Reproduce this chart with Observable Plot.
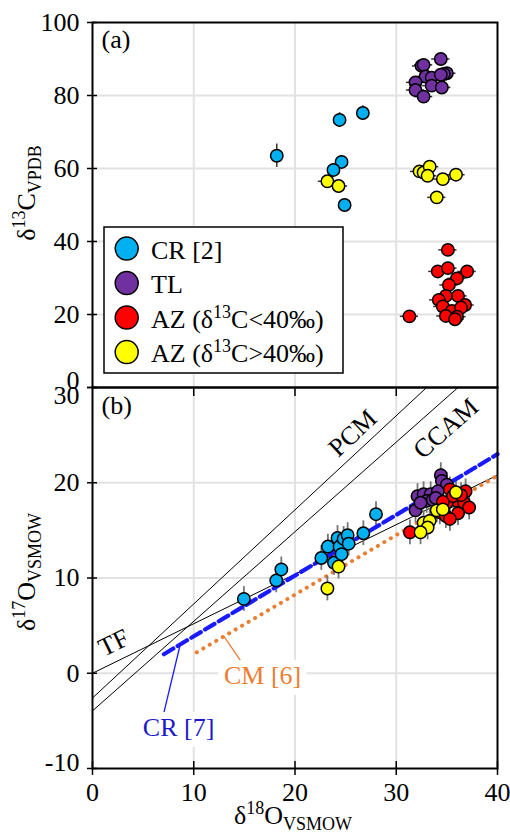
<!DOCTYPE html>
<html><head><meta charset="utf-8">
<script src="https://cdn.jsdelivr.net/npm/d3@7"></script>
<script src="https://cdn.jsdelivr.net/npm/@observablehq/plot@0.6"></script>
<style>
html,body{margin:0;padding:0;background:#fff;}
#wrap{position:relative;width:510px;height:836px;}
#wrap svg{position:absolute;left:0;overflow:visible;background:transparent !important;}
</style></head><body><div id="wrap"></div>
<script>
// ---------- axes ----------
const xDomain = [0, 40];
const xTicks = [0, 10, 20, 30, 40];
const aYDomain = [0, 100];
const aYTicks = [0, 20, 40, 60, 80, 100];
const bYDomain = [-10, 30];
const bYTicks = [-10, 0, 10, 20, 30];

// ---------- series ----------
const seriesColors = ["#00b0f0", "#7030a0", "#ff0000", "#ffff00"];
const legendParts = [
  [["CR [2]", "n"]],
  [["TL", "n"]],
  [["AZ (δ", "n"], ["13", "sup"], ["C<40‰)", "n"]],
  [["AZ (δ", "n"], ["13", "sup"], ["C>40‰)", "n"]]
];

// panel (a): δ18O vs δ13C
const aCR_x = [18.2, 24.4, 26.7, 24.6, 23.8, 24.9];
const aCR_y = [63.5, 73.3, 75.2, 61.8, 59.6, 50.0];
const aCR_err = [3.2, 2.0, 2.0, 1.7, 1.7, 1.7];
const aTL_x = [32.5, 32.7, 34.4, 35.0, 34.7, 32.9, 33.5, 31.9, 33.5, 34.5, 31.9, 32.7, 34.4];
const aTL_y = [88.1, 88.4, 90.0, 86.1, 85.9, 85.2, 84.9, 83.6, 82.7, 82.2, 81.5, 79.7, 85.7];
const aTL_err = 0.9;
const aAZlo_x = [35.1, 34.1, 35.1, 37.0, 36.0, 35.2, 34.9, 34.2, 36.1, 36.8, 34.6, 35.5, 36.4, 34.9, 36.0, 35.8, 31.3];
const aAZlo_y = [37.7, 31.8, 32.7, 31.8, 29.9, 28.1, 25.1, 24.0, 25.1, 22.6, 22.2, 21.0, 21.9, 19.6, 19.4, 18.7, 19.5];
const aAZlo_err = 0.9;
const aAZhi_x = [23.2, 24.3, 32.3, 32.7, 33.3, 33.1, 34.6, 35.9, 34.0];
const aAZhi_y = [56.5, 55.2, 59.2, 58.9, 60.5, 58.0, 57.1, 58.3, 52.1];
const aAZhi_err = 0.9;

// panel (b): δ18O vs δ17O
const bCR_x = [14.95, 18.15, 18.65, 22.6, 23.25, 23.85, 24.2, 24.4, 24.6, 24.8, 25.2, 25.3, 26.75, 28.0];
const bCR_y = [7.8, 9.75, 10.9, 12.1, 13.3, 11.6, 14.2, 13.3, 12.5, 14.1, 14.5, 13.6, 14.7, 16.7];
const bTL_x = [34.4, 34.5, 35.0, 32.1, 32.7, 33.4, 33.0, 33.6, 31.9, 34.1, 33.9, 32.4];
const bTL_y = [20.8, 20.2, 19.8, 18.6, 18.8, 18.8, 18.1, 18.2, 17.1, 19.1, 18.4, 17.9];
const bAZlo_x = [31.35, 35.3, 36.85, 36.0, 36.7, 35.0, 37.2, 34.3, 34.9, 36.1, 35.3, 35.6, 36.4, 34.6];
const bAZlo_y = [14.8, 19.3, 19.1, 18.1, 17.9, 17.9, 17.4, 16.9, 16.5, 16.8, 16.2, 18.6, 18.7, 18.0];
const bAZhi_x = [23.2, 24.3, 35.9, 34.0, 34.6, 32.7, 33.3, 33.1, 32.4];
const bAZhi_y = [8.9, 11.2, 19.0, 17.1, 17.2, 15.8, 16.0, 15.3, 14.8];
const bErr = 1.3;

// reference lines in panel (b): endpoints
const refNames = ["TF", "PCM", "CCAM", "CR [7]", "CM [6]"];
const refX1 = [0, 0, 0, 7.05, 10.3];
const refY1 = [0, -2.6, -3.95, 2.0, 2.2];
const refX2 = [40, 33.0, 36.1, 40, 40];
const refY2 = [20.8, 30, 30, 23.0, 20.75];
const refLabelX = [2.1, 25.7, 34.9, 8.5, 16.8];
const refLabelY = [3.2, 25.2, 25.7, -5.7, -0.3];
const refLabelRotate = [-26, -43, -41.5, 0, 0];
const refLabelColor = ["black", "black", "black", "#1a1acc", "#ed7d31"];
const leaderX1 = [7.05, 14.6], leaderY1 = [-4.13, 1.36];
const leaderX2 = [8.63, 12.97], leaderY2 = [2.86, 3.9];
const leaderColor = ["#1a1aff", "#ed7d31"];

// ---------- helpers ----------
const FONT = "'Liberation Serif','Times New Roman',serif";
const FS = 26, FS_SMALL = 18;
const gridColor = "#e2e2e2";
function series(xs, ys, errs) {
  return xs.map((x, i) => ({x, y: ys[i], e: Array.isArray(errs) ? errs[i] : errs}));
}
function rich(textSel, parts, big, small) {
  let cur = 0;
  for (const [t, k] of parts) {
    const target = k === "sup" ? -0.38 * big : k === "sub" ? 0.24 * big : 0;
    textSel.append("tspan").attr("dy", target - cur).attr("font-size", k === "n" ? big : small).text(t);
    cur = target;
  }
}
function titleMark(parts, place) {
  return (index, scales, values, dims) => {
    const t = d3.create("svg:text").attr("font-family", FONT).attr("fill", "black")
      .attr("text-anchor", "middle").attr("transform", place(dims));
    rich(t, parts, FS, FS_SMALL);
    return t.node();
  };
}
const style = {fontFamily: FONT, fontSize: FS + "px", color: "black", background: "transparent", overflow: "visible"};
const dotOpts = (color) => ({x: "x", y: "y", r: 6.2, fill: color, stroke: "black", strokeWidth: 1.5});

const aSeries = [series(aCR_x, aCR_y, aCR_err), series(aTL_x, aTL_y, aTL_err), series(aAZlo_x, aAZlo_y, aAZlo_err), series(aAZhi_x, aAZhi_y, aAZhi_err)];
const bSeries = [series(bCR_x, bCR_y, bErr), series(bTL_x, bTL_y, bErr), series(bAZlo_x, bAZlo_y, bErr), series(bAZhi_x, bAZhi_y, bErr)];

// ---------- panel (a) ----------
const legendMark = (index, scales, values, dims) => {
  const g = d3.create("svg:g").attr("font-family", FONT).attr("text-anchor", "start");
  const w = 239, h = 146;
  const left = dims.marginLeft + 12, topY = dims.height - dims.marginBottom - 14 - h;
  g.append("rect").attr("x", left).attr("y", topY).attr("width", w).attr("height", h)
    .attr("fill", "white").attr("stroke", "black").attr("stroke-width", 1.5);
  legendParts.forEach((parts, i) => {
    const cy = topY + 21.6 + i * 34.5;
    g.append("circle").attr("cx", left + 22.7).attr("cy", cy).attr("r", 11.5)
      .attr("fill", seriesColors[i]).attr("stroke", "black").attr("stroke-width", 1.5);
    const t = g.append("text").attr("x", left + 47).attr("y", cy + 10).attr("fill", "black").attr("text-anchor", "start");
    rich(t, parts, FS, FS_SMALL);
  });
  return g.node();
};

const plotA = Plot.plot({
  width: 510, height: 387,
  marginLeft: 92, marginRight: 13, marginTop: 22, marginBottom: 0,
  x: {domain: xDomain, axis: null}, y: {domain: aYDomain},
  style,
  marks: [
    Plot.gridX({ticks: xTicks.slice(1, -1), stroke: gridColor, strokeOpacity: 1, strokeWidth: 2}),
    Plot.gridY({ticks: aYTicks.slice(1, -1), stroke: gridColor, strokeOpacity: 1, strokeWidth: 2}),
    Plot.ruleX(aSeries[0], {x: "x", y1: d => d.y - d.e, y2: d => d.y + d.e, stroke: "#333", strokeWidth: 1.5}),
    ...aSeries.slice(1).map(s => Plot.ruleY(s, {y: "y", x1: d => d.x - d.e, x2: d => d.x + d.e, stroke: "#333", strokeWidth: 1.5})),
    ...aSeries.map((s, i) => Plot.dot(s, dotOpts(seriesColors[i]))),
    Plot.frame({stroke: "black", strokeWidth: 2}),
    Plot.ruleY(aYTicks, {y: d => d, x1: xDomain[0], x2: xDomain[0], insetLeft: -5, insetRight: -5, stroke: "black", strokeWidth: 1.5}),
    Plot.axisY({ticks: aYTicks.slice(1), tickSize: 0, tickPadding: 13, tickFormat: d => String(d), label: null}),
    Plot.axisY({ticks: [aYTicks[0]], tickSize: 0, tickPadding: 13, dy: -7, tickFormat: d => String(d), label: null}),
    Plot.text(["(a)"], {frameAnchor: "top-left", dx: 9, dy: 7, lineAnchor: "top", textAnchor: "start", text: d => d, fontSize: FS}),
    legendMark,
    titleMark([["δ", "n"], ["13", "sup"], ["C", "n"], ["VPDB", "sub"]], d => `translate(35,193) rotate(-90)`)
  ]
});

// ---------- panel (b) ----------
const refLines = refNames.map((n, i) => [{name: n, x: refX1[i], y: refY1[i]}, {name: n, x: refX2[i], y: refY2[i]}]);
const refLabels = refNames.map((n, i) => ({name: n, x: refLabelX[i], y: refLabelY[i], r: refLabelRotate[i], c: refLabelColor[i]}));
const leaders = leaderX1.map((x, i) => ({x1: x, y1: leaderY1[i], x2: leaderX2[i], y2: leaderY2[i], c: leaderColor[i]}));

const plotB = Plot.plot({
  width: 510, height: 449,
  marginLeft: 92, marginRight: 13, marginTop: 0, marginBottom: 68,
  x: {domain: xDomain}, y: {domain: bYDomain},
  style,
  marks: [
    Plot.gridX({ticks: xTicks.slice(1, -1), stroke: gridColor, strokeOpacity: 1, strokeWidth: 2}),
    Plot.gridY({ticks: bYTicks.slice(1, -1), stroke: gridColor, strokeOpacity: 1, strokeWidth: 2}),
    ...[0, 1, 2].map(i => Plot.line(refLines[i], {x: "x", y: "y", stroke: "black", strokeWidth: 1})),
    Plot.line(refLines[4], {x: "x", y: "y", stroke: "#ed7d31", strokeWidth: 4, strokeDasharray: "0.1,7.4", strokeLinecap: "round"}),
    Plot.link(leaders, {x1: "x1", y1: "y1", x2: "x2", y2: "y2", stroke: "c", strokeWidth: 1.3}),
    Plot.text(refLabels.slice(3), {x: "x", y: "y", text: "name", fill: "c", fontSize: FS, stroke: "white", strokeWidth: 14, paintOrder: "stroke"}),
    ...[0, 1, 2].map(i => Plot.text([refLabels[i]], {x: "x", y: "y", text: "name", rotate: refLabels[i].r, fill: "black", fontSize: FS})),
    ...bSeries.map(s => Plot.ruleX(s, {x: "x", y1: d => d.y - d.e, y2: d => d.y + d.e, stroke: "#777", strokeWidth: 1.8})),
    Plot.line(refLines[3], {x: "x", y: "y", stroke: "#1a1aff", strokeWidth: 4.2, strokeDasharray: "11,5", strokeLinecap: "round"}),
    ...bSeries.map((s, i) => Plot.dot(s, dotOpts(seriesColors[i]))),
    Plot.frame({stroke: "black", strokeWidth: 2}),
    Plot.ruleY(bYTicks, {y: d => d, x1: xDomain[0], x2: xDomain[0], insetLeft: -5, insetRight: -5, stroke: "black", strokeWidth: 1.5}),
    Plot.ruleX(xTicks, {x: d => d, y1: bYDomain[0], y2: bYDomain[0], insetTop: -7, insetBottom: -7, stroke: "black", strokeWidth: 1.5}),
    Plot.ruleX(xTicks.slice(1, -1), {x: d => d, y1: bYDomain[1], y2: bYDomain[1], insetBottom: -9, stroke: "black", strokeWidth: 1.5}),
    Plot.axisY({ticks: bYTicks.slice(1, -1), tickSize: 0, tickPadding: 13, tickFormat: d => String(d), label: null}),
    Plot.axisY({ticks: [bYTicks[bYTicks.length - 1]], tickSize: 0, tickPadding: 13, dy: 8, tickFormat: d => String(d), label: null}),
    Plot.axisY({ticks: [bYTicks[0]], tickSize: 0, tickPadding: 13, dy: -6, tickFormat: d => String(d), label: null}),
    Plot.axisX({ticks: xTicks, tickSize: 0, tickPadding: 14, tickFormat: d => String(d), label: null}),
    Plot.text(["(b)"], {frameAnchor: "top-left", dx: 9, dy: 8, lineAnchor: "top", textAnchor: "start", text: d => d, fontSize: FS}),
    titleMark([["δ", "n"], ["17", "sup"], ["O", "n"], ["VSMOW", "sub"]], d => `translate(35,185) rotate(-90)`),
    titleMark([["δ", "n"], ["18", "sup"], ["O", "n"], ["VSMOW", "sub"]], d => `translate(293,437)`)
  ]
});

const wrap = document.getElementById("wrap");
plotA.style.top = "0px";
plotB.style.top = "387px";
wrap.appendChild(plotA);
wrap.appendChild(plotB);
</script>
</body></html>
